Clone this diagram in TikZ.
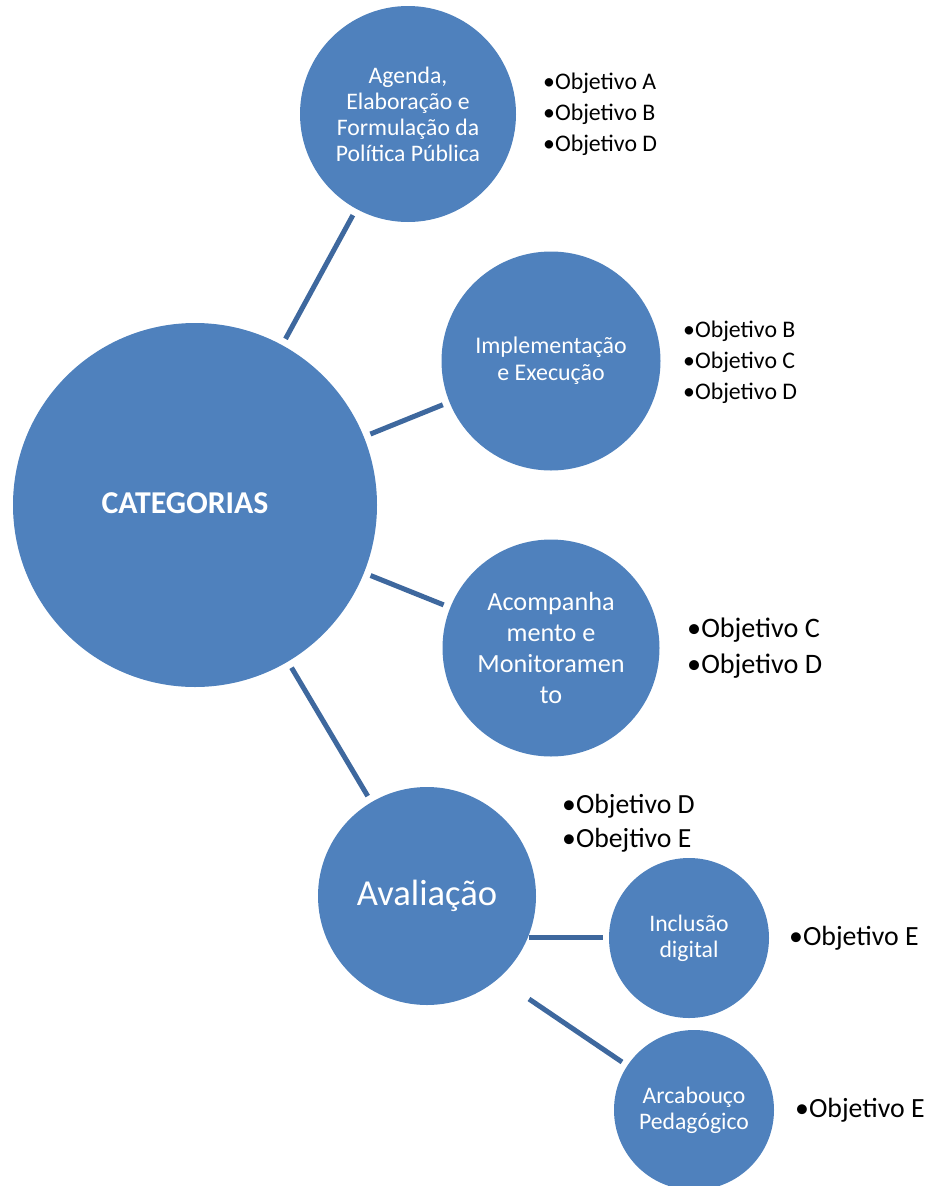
\documentclass[tikz,border=0pt]{standalone}
\usepackage{fontspec}
\setmainfont{Carlito}
\definecolor{fillblue}{RGB}{79,129,189}
\definecolor{lineblue}{RGB}{62,104,158}
\begin{document}
\begin{tikzpicture}[x=1pt,y=-1pt,
  bubble/.style={circle, fill=fillblue, draw=none, inner sep=0pt, text=white, align=center},
  conn/.style={draw=lineblue, line width=5pt, shorten >=7pt, shorten <=7pt},
  freeconn/.style={draw=lineblue, line width=5pt},
  bul/.style={anchor=west, inner sep=0pt, align=left, text=black},
  small/.style={font={\fontsize{23.7}{26}\selectfont}},
  bulsmall/.style={font={\fontsize{23.8}{31}\selectfont}},
  bulmed/.style={font={\fontsize{27.8}{35}\selectfont}}]
\useasboundingbox (0,0) rectangle (927,1186);

% circles
\node[bubble, minimum size=364pt] (cat) at (195,505) {};
\node[text=white, inner sep=0pt, font={\bfseries\fontsize{31.8}{38}\selectfont}] (catlabel) at (185,503) {CATEGORIAS};

\node[bubble, minimum size=216pt, small] (agenda) at (408,114) {Agenda,\\Elaboração e\\Formulação da\\Política Pública};
\node[bubble, minimum size=219pt, font={\fontsize{23.9}{27}\selectfont}] (impl) at (551,361) {Implementação\\e Execução};
\node[bubble, minimum size=217pt, font={\fontsize{26.2}{31}\selectfont}] (acomp) at (551,648) {Acompanha\\mento e\\Monitoramen\\to};
\node[bubble, minimum size=218pt, font={\fontsize{36.6}{44}\selectfont}] (aval) at (427,896) {Avaliação};
\node[bubble, minimum size=160pt, small] (incl) at (689,938) {Inclusão\\digital};
\node[bubble, minimum size=160pt, small] (arca) at (694,1110) {Arcabouço\\Pedagógico};

% connectors
\draw[conn] (cat) -- (agenda);
\draw[conn] (cat) -- (impl);
\draw[conn] (cat) -- (acomp);
\draw[conn] (cat) -- (aval);
\coordinate (a1) at (529,937);
\coordinate (i1) at (603,937);
\coordinate (a2) at (529,999);
\coordinate (p1) at (622,1062);
\draw[freeconn] (a1) -- (i1);
\draw[freeconn] (a2) -- (p1);

% bullet lists
\node[bul, bulsmall] (bagenda) at (543,114) {•Objetivo A\\•Objetivo B\\•Objetivo D};
\node[bul, bulsmall] (bimpl) at (683,362) {•Objetivo B\\•Objetivo C\\•Objetivo D};
\node[bul, font={\fontsize{28.2}{36}\selectfont}] (bacomp) at (687,648) {•Objetivo C\\•Objetivo D};
\node[bul, font={\fontsize{27.7}{34}\selectfont}] (baval) at (562,823) {•Objetivo D\\•Obejtivo E};
\node[bul, bulmed] (bincl) at (789,938) {•Objetivo E};
\node[bul, bulmed] (barca) at (795,1110) {•Objetivo E};
\end{tikzpicture}
\end{document}
